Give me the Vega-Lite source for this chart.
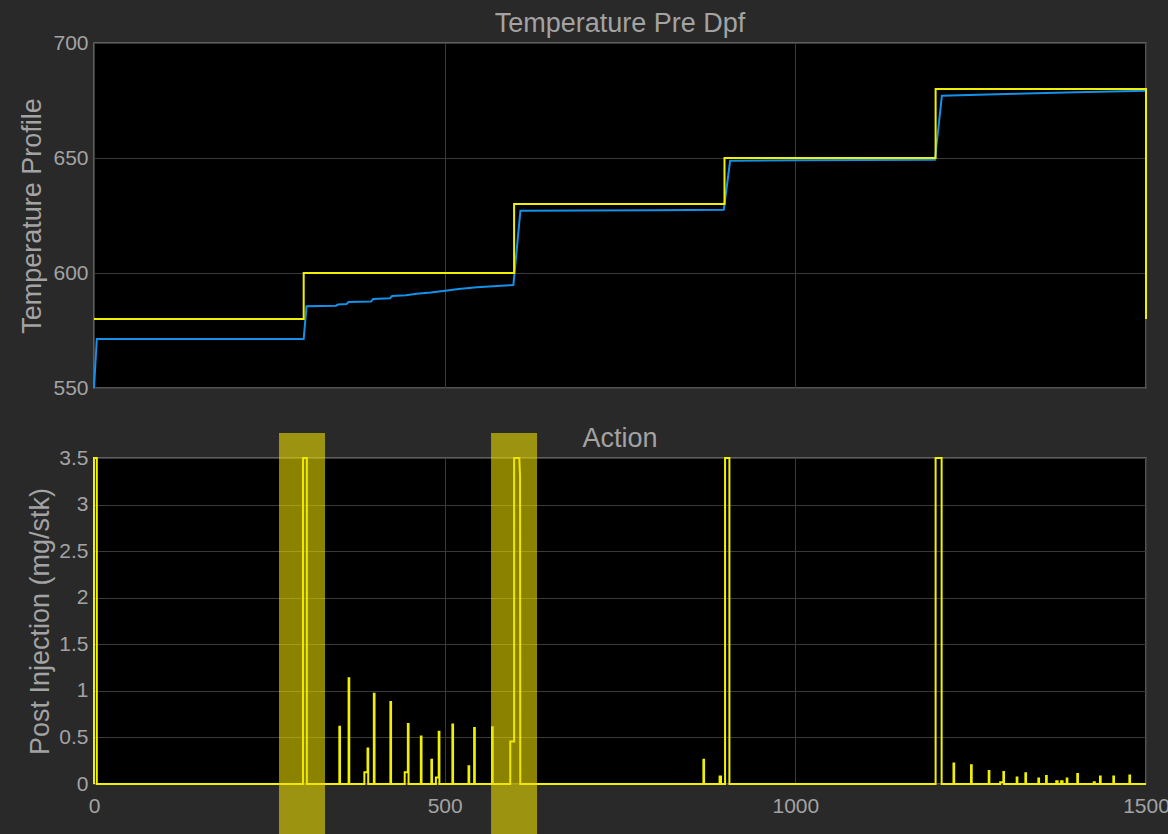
{
  "$schema": "https://vega.github.io/schema/vega-lite/v6.json",
  "background": "#292929",
  "padding": {"left": 18, "top": 9, "right": 0, "bottom": 0},
  "spacing": 25,
  "config": {
    "view": {"fill": "#000000", "stroke": "#707070", "strokeWidth": 1.5},
    "font": "Liberation Sans",
    "axis": {"domain": false, "ticks": false, "grid": true, "gridColor": "#3a3a3a", "gridWidth": 1, "labelColor": "#a3a3a3", "labelFontSize": 21, "labelFont": "Liberation Sans", "titleColor": "#a3a3a3", "titleFont": "Liberation Sans", "titleFontSize": 27, "titleFontWeight": "normal"},
    "title": {"color": "#a3a3a3", "font": "Liberation Sans", "fontSize": 27, "fontWeight": "normal", "frame": "group", "anchor": "middle"}
  },
  "datasets": {
    "ref": [
      {"t": 0, "v": 580}, {"t": 299, "v": 580}, {"t": 299, "v": 600}, {"t": 599, "v": 600}, {"t": 599, "v": 630}, {"t": 899, "v": 630}, {"t": 899, "v": 650}, {"t": 1200, "v": 650}, {"t": 1200, "v": 680}, {"t": 1500, "v": 680}, {"t": 1500, "v": 580}
    ],
    "meas": [
      {"t": 0, "v": 550}, {"t": 4, "v": 571.3}, {"t": 299, "v": 571.3}, {"t": 303, "v": 585.5}, {"t": 345, "v": 585.8}, {"t": 348, "v": 586.3}, {"t": 360, "v": 586.5}, {"t": 363, "v": 587.4}, {"t": 395, "v": 587.6}, {"t": 398, "v": 588.7}, {"t": 422, "v": 589}, {"t": 425, "v": 590}, {"t": 445, "v": 590.3}, {"t": 460, "v": 591}, {"t": 480, "v": 591.5}, {"t": 498, "v": 592.2}, {"t": 520, "v": 593}, {"t": 546, "v": 593.8}, {"t": 575, "v": 594.3}, {"t": 598, "v": 594.8}, {"t": 608, "v": 627.1}, {"t": 700, "v": 627.2}, {"t": 800, "v": 627.3}, {"t": 898, "v": 627.5}, {"t": 907, "v": 648.8}, {"t": 1000, "v": 649}, {"t": 1100, "v": 649.1}, {"t": 1199, "v": 649.2}, {"t": 1209, "v": 677.1}, {"t": 1300, "v": 677.8}, {"t": 1400, "v": 678.6}, {"t": 1500, "v": 679.2}
    ],
    "act": [
      {"t":0,"v":0},{"t":0,"v":3.5},{"t":4,"v":3.5},{"t":4,"v":0},
      {"t":298,"v":0},{"t":298,"v":3.5},{"t":303.5,"v":3.5},{"t":303.5,"v":0},
      {"t":349.8,"v":0},{"t":349.8,"v":0.615},{"t":350.8,"v":0.615},{"t":350.8,"v":0},
      {"t":363,"v":0},{"t":363,"v":1.135},{"t":364,"v":1.135},{"t":364,"v":0},
      {"t":385.5,"v":0},{"t":385.5,"v":0.125},{"t":390,"v":0.125},{"t":390,"v":0.38},{"t":391,"v":0.38},{"t":391,"v":0},
      {"t":399,"v":0},{"t":399,"v":0.97},{"t":400,"v":0.97},{"t":400,"v":0},
      {"t":422.6,"v":0},{"t":422.6,"v":0.88},{"t":423.6,"v":0.88},{"t":423.6,"v":0},
      {"t":443,"v":0},{"t":443,"v":0.125},{"t":447.5,"v":0.125},{"t":447.5,"v":0.644},{"t":448.5,"v":0.644},{"t":448.5,"v":0},
      {"t":466,"v":0},{"t":466,"v":0.51},{"t":467,"v":0.51},{"t":467,"v":0},
      {"t":481,"v":0},{"t":481,"v":0.26},{"t":482,"v":0.26},{"t":482,"v":0},
      {"t":487.5,"v":0},{"t":487.5,"v":0.07},{"t":491.5,"v":0.07},{"t":491.5,"v":0.56},{"t":492.5,"v":0.56},{"t":492.5,"v":0},
      {"t":511,"v":0},{"t":511,"v":0.64},{"t":512,"v":0.64},{"t":512,"v":0},
      {"t":534,"v":0},{"t":534,"v":0.19},{"t":535,"v":0.19},{"t":535,"v":0},
      {"t":542,"v":0},{"t":542,"v":0.6},{"t":543,"v":0.6},{"t":543,"v":0},
      {"t":567.5,"v":0},{"t":567.5,"v":0.61},{"t":568.5,"v":0.61},{"t":568.5,"v":0},
      {"t":593.5,"v":0},{"t":593.5,"v":0.455},{"t":599,"v":0.455},{"t":599,"v":3.5},{"t":606.4,"v":3.5},{"t":607.5,"v":3.3},{"t":607.8,"v":0},
      {"t":868.9,"v":0},{"t":868.9,"v":0.26},{"t":869.9,"v":0.26},{"t":869.9,"v":0},
      {"t":892,"v":0},{"t":892,"v":0.08},{"t":894,"v":0.08},{"t":894,"v":0},
      {"t":899.8,"v":0},{"t":899.8,"v":3.5},{"t":906,"v":3.5},{"t":906,"v":0},
      {"t":1200,"v":0},{"t":1200,"v":3.5},{"t":1208.6,"v":3.5},{"t":1208.6,"v":0},
      {"t":1225.5,"v":0},{"t":1225.5,"v":0.22},{"t":1226.5,"v":0.22},{"t":1226.5,"v":0},
      {"t":1250.5,"v":0},{"t":1250.5,"v":0.2},{"t":1251.5,"v":0.2},{"t":1251.5,"v":0},
      {"t":1275.7,"v":0},{"t":1275.7,"v":0.14},{"t":1276.7,"v":0.14},{"t":1276.7,"v":0},
      {"t":1292,"v":0},{"t":1292,"v":0.02},{"t":1296.6,"v":0.02},{"t":1296.6,"v":0.13},{"t":1297.6,"v":0.13},{"t":1297.6,"v":0},
      {"t":1315.6,"v":0},{"t":1315.6,"v":0.07},{"t":1316.6,"v":0.07},{"t":1316.6,"v":0},
      {"t":1328,"v":0},{"t":1328,"v":0.115},{"t":1329,"v":0.115},{"t":1329,"v":0},
      {"t":1346.5,"v":0},{"t":1346.5,"v":0.06},{"t":1347.5,"v":0.06},{"t":1347.5,"v":0},
      {"t":1357.5,"v":0},{"t":1357.5,"v":0.086},{"t":1358.5,"v":0.086},{"t":1358.5,"v":0},
      {"t":1372,"v":0},{"t":1372,"v":0.03},{"t":1374,"v":0.03},{"t":1374,"v":0},
      {"t":1379,"v":0},{"t":1379,"v":0.03},{"t":1381,"v":0.03},{"t":1381,"v":0},
      {"t":1386.9,"v":0},{"t":1386.9,"v":0.06},{"t":1387.9,"v":0.06},{"t":1387.9,"v":0},
      {"t":1402,"v":0},{"t":1402,"v":0.107},{"t":1403,"v":0.107},{"t":1403,"v":0},
      {"t":1425.5,"v":0},{"t":1425.5,"v":0.02},{"t":1427,"v":0.02},{"t":1427,"v":0},
      {"t":1434.4,"v":0},{"t":1434.4,"v":0.08},{"t":1435.4,"v":0.08},{"t":1435.4,"v":0},
      {"t":1453.4,"v":0},{"t":1453.4,"v":0.08},{"t":1454.4,"v":0.08},{"t":1454.4,"v":0},
      {"t":1476.3,"v":0},{"t":1476.3,"v":0.09},{"t":1477.3,"v":0.09},{"t":1477.3,"v":0},
      {"t":1500,"v":0}
    ],
    "hl": [
      {"x0": 263.8, "x1": 329.4},
      {"x0": 566.1, "x1": 631.7}
    ]
  },
  "vconcat": [
    {
      "width": 1052,
      "height": 345,
      "title": {"text": "Temperature Pre Dpf", "offset": -6},
      "layer": [
        {
          "data": {"name": "meas"},
          "transform": [{"window": [{"op": "row_number", "as": "i"}]}],
          "mark": {"type": "line", "color": "#1491e8", "strokeWidth": 2},
          "encoding": {
            "x": {"field": "t", "type": "quantitative", "scale": {"domain": [0, 1500], "nice": false, "zero": false}, "axis": {"values": [0, 500, 1000, 1500], "labels": false, "title": null}},
            "y": {"field": "v", "type": "quantitative", "scale": {"domain": [550, 700], "nice": false, "zero": false}, "axis": {"values": [550, 600, 650, 700], "title": "Temperature Profile", "labelPadding": 6, "titlePadding": 6}},
            "order": {"field": "i", "type": "quantitative"}
          }
        },
        {
          "data": {"name": "ref"},
          "transform": [{"window": [{"op": "row_number", "as": "i"}]}],
          "mark": {"type": "line", "color": "#f0f000", "strokeWidth": 2},
          "encoding": {
            "x": {"field": "t", "type": "quantitative"},
            "y": {"field": "v", "type": "quantitative"},
            "order": {"field": "i", "type": "quantitative"}
          }
        }
      ]
    },
    {
      "width": 1052,
      "height": 326,
      "title": {"text": "Action", "offset": -20},
      "layer": [
        {
          "data": {"name": "act"},
          "transform": [{"window": [{"op": "row_number", "as": "i"}]}],
          "mark": {"type": "line", "color": "#f0f000", "strokeWidth": 2},
          "encoding": {
            "x": {"field": "t", "type": "quantitative", "scale": {"domain": [0, 1500], "nice": false, "zero": false}, "axis": {"values": [0, 500, 1000, 1500], "format": "d", "labelFlush": false, "labelPadding": 11, "title": null}},
            "y": {"field": "v", "type": "quantitative", "scale": {"domain": [0, 3.5], "nice": false}, "axis": {"values": [0, 0.5, 1, 1.5, 2, 2.5, 3, 3.5], "format": "~g", "title": "Post Injection (mg/stk)", "labelPadding": 6, "titlePadding": 4}},
            "order": {"field": "i", "type": "quantitative"}
          }
        },
        {
          "data": {"name": "hl"},
          "mark": {"type": "rect", "color": "#f0e000", "opacity": 0.58},
          "encoding": {
            "x": {"field": "x0", "type": "quantitative"},
            "x2": {"field": "x1"},
            "y": {"datum": 3.769},
            "y2": {"datum": -0.537}
          }
        }
      ]
    }
  ]
}
